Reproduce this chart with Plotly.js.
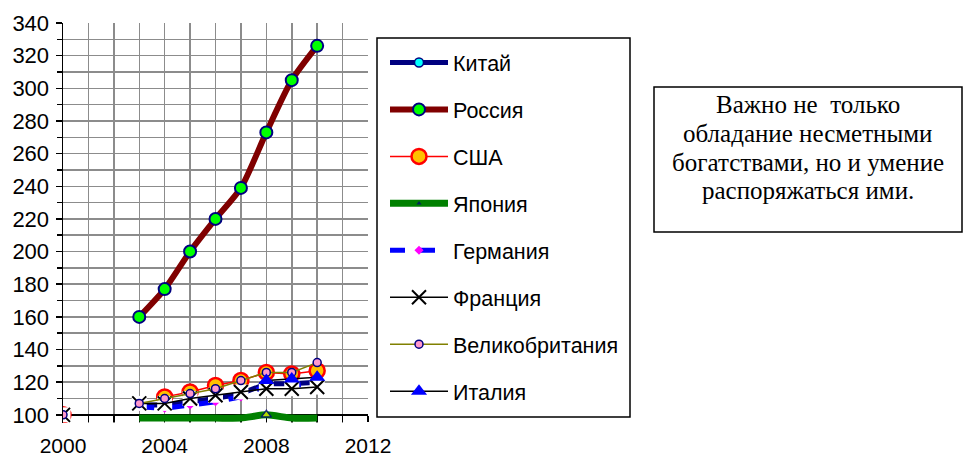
<!DOCTYPE html>
<html>
<head>
<meta charset="utf-8">
<script src="https://cdn.plot.ly/plotly-3.0.1.min.js"></script>
<style>html,body{margin:0;padding:0;background:#fff;}#chart{width:976px;height:457px;}</style>
</head>
<body>
<div id="chart"></div>
<script>
// ---- data ----
var years = [2000, 2001, 2002, 2003, 2004, 2005, 2006, 2007, 2008, 2009, 2010];
var china   = [null, null, null, 106, 106, 108, 110, 113, 119, 119, 120];
var russia  = [null, null, null, 160, 177, 200, 220, 239, 273, 305, 326];
var usa     = [100, null, null, null, 111, 114, 118, 121, 126, 125, 127];
var japan   = [null, null, null, 98, 98, 98, 98, 98, 100, 98, 98];
var germany = [null, null, null, 105, 104, 106, 108, 111, 118, 118, 119];
var france  = [100, null, null, 107, 107, 110, 112, 114, 116, 116, 117];
var uk      = [100, null, null, 107, 110, 113, 116, 121, 126, 126, 132];
var italy   = [null, null, null, null, null, null, null, null, 121, 122, 123];
var names = ["Китай", "Россия", "США", "Япония", "Германия", "Франция", "Великобритания", "Италия"];
var xTicks = [2000, 2004, 2008, 2012];
var yTicks = [100, 120, 140, 160, 180, 200, 220, 240, 260, 280, 300, 320, 340];
var noteLines = ["Важно не\u00A0\u00A0только", "обладание несметными", "богатствами, но и умение", "распоряжаться ими."];

// ---- layout geometry (pixels) ----
var W = 976, H = 457;
var mL = 63, mR = W - 368, mT = 23, mB = 34;
var yMin = 95, yMax = 340;
function px2x(p) { return (p - mL) / (W - mL - mR); }
function px2y(p) { return (H - mB - p) / (H - mT - mB); }

var traces = [
  {name: names[0], x: years, y: china, mode: "lines+markers",
   line: {color: "#000080", width: 5},
   marker: {symbol: "circle", size: 9, color: "#00FFFF", line: {color: "#000080", width: 1.5}}},
  {name: names[1], x: years, y: russia, mode: "lines+markers",
   line: {color: "#800000", width: 6, shape: "spline", smoothing: 0.7},
   marker: {symbol: "circle", size: 12, color: "#00FF00", line: {color: "#000080", width: 2}}},
  {name: names[2], x: years, y: usa, mode: "lines+markers",
   line: {color: "#FF0000", width: 1.5},
   marker: {symbol: "circle", size: 15, color: "#FFC000", line: {color: "#FF0000", width: 2.5}}},
  {name: names[3], x: years, y: japan, mode: "lines+markers", cliponaxis: false,
   line: {color: "#008000", width: 7, shape: "spline", smoothing: 0.7},
   marker: {symbol: "triangle-up", size: japan.map(function (v) { return v !== null && v >= 100 ? 9 : 0; }),
            color: "#FFFF00", line: {color: "#000080", width: 1.5}}},
  {name: names[4], x: years, y: germany, mode: "lines+markers",
   line: {color: "#0000FF", width: 5, dash: "dash"},
   marker: {symbol: "diamond", size: 7, color: "#FF00FF", line: {width: 0}}},
  // white backdrop behind the France "x" markers (as in the original chart)
  {name: names[5], x: years, y: france, mode: "markers", showlegend: false,
   marker: {symbol: "square", size: 15, color: "#FFFFFF", line: {width: 0}}},
  {name: names[5], x: years, y: france, mode: "lines+markers",
   line: {color: "#000000", width: 1.5},
   marker: {symbol: "x-thin", size: 14, color: "#000000", line: {color: "#000000", width: 2}}},
  {name: names[6], x: years, y: uk, mode: "lines+markers",
   line: {color: "#808000", width: 1.5},
   marker: {symbol: "circle", size: 8, color: "#FF99CC", line: {color: "#000080", width: 1.5}}},
  {name: names[7], x: years, y: italy, mode: "lines+markers",
   line: {color: "#000000", width: 1.5},
   marker: {symbol: "triangle-up", size: 14, color: "#0000FF", line: {width: 0}}}
];
traces.forEach(function (t) { t.legendgroup = "g" + names.indexOf(t.name); t.connectgaps = false; });

var annotations = noteLines.map(function (txt, i) {
  return {xref: "paper", yref: "paper", x: px2x(808), y: px2y(105 + i * 28.5), xanchor: "center", yanchor: "middle",
          text: txt, showarrow: false, align: "center",
          font: {family: "Liberation Serif, Times New Roman, serif", size: 25, color: "#000000"}};
});

var layout = {
  width: W, height: H,
  margin: {l: mL, r: mR, t: mT, b: mB, pad: 0, autoexpand: false},
  paper_bgcolor: "#ffffff", plot_bgcolor: "#ffffff",
  font: {family: "Liberation Sans, Arial, sans-serif", size: 22, color: "#000000"},
  xaxis: {
    range: [2000, 2012], tickmode: "array", tickvals: xTicks, ticktext: xTicks.map(String),
    showgrid: true, gridcolor: "#8c8c8c", gridwidth: 1.5,
    showline: true, linecolor: "#000000", linewidth: 2,
    ticks: "outside", ticklen: 6, tickcolor: "#000000", tickwidth: 1.5,
    minor: {tickmode: "linear", tick0: 2000, dtick: 1, showgrid: true, gridcolor: "#8c8c8c", gridwidth: 1.5, ticks: "outside", ticklen: 6, tickcolor: "#000000"},
    anchor: "free", position: (100 - yMin) / (yMax - yMin),
    zeroline: false, fixedrange: true, layer: "below traces",
    tickfont: {size: 21}, ticklabelstandoff: 6
  },
  yaxis: {
    range: [yMin, yMax], tickmode: "array", tickvals: yTicks,
    showgrid: true, gridcolor: "#8c8c8c", gridwidth: 1.5,
    showline: true, linecolor: "#000000", linewidth: 1.5,
    ticks: "outside", ticklen: 6, tickcolor: "#000000", tickwidth: 1.5,
    minor: {tickmode: "linear", tick0: 100, dtick: 10, showgrid: true, gridcolor: "#8c8c8c", gridwidth: 1.5, ticks: "outside", ticklen: 5, tickcolor: "#000000"},
    zeroline: false, fixedrange: true, layer: "below traces", tickfont: {size: 22}, ticklabelstandoff: 2
  },
  showlegend: true,
  legend: {
    x: px2x(385), y: px2y(42), xanchor: "left", yanchor: "top",
    bgcolor: "rgba(0,0,0,0)", borderwidth: 0, itemwidth: 58, tracegroupgap: 16,
    font: {family: "Liberation Sans, Arial, sans-serif", size: 21.5, color: "#000000"},
    itemclick: false, itemdoubleclick: false, maxheight: 440
  },
  shapes: [
    {type: "rect", xref: "paper", yref: "paper", x0: px2x(377), x1: px2x(630), y0: px2y(417), y1: px2y(38),
     line: {color: "#000000", width: 1.5}, fillcolor: "rgba(0,0,0,0)", layer: "above"},
    {type: "rect", xref: "paper", yref: "paper", x0: px2x(654), x1: px2x(962), y0: px2y(232), y1: px2y(87),
     line: {color: "#000000", width: 1.5}, fillcolor: "rgba(0,0,0,0)", layer: "above"}
  ],
  annotations: annotations
};

Plotly.newPlot("chart", traces, layout, {displayModeBar: false, staticPlot: true});
</script>
</body>
</html>
